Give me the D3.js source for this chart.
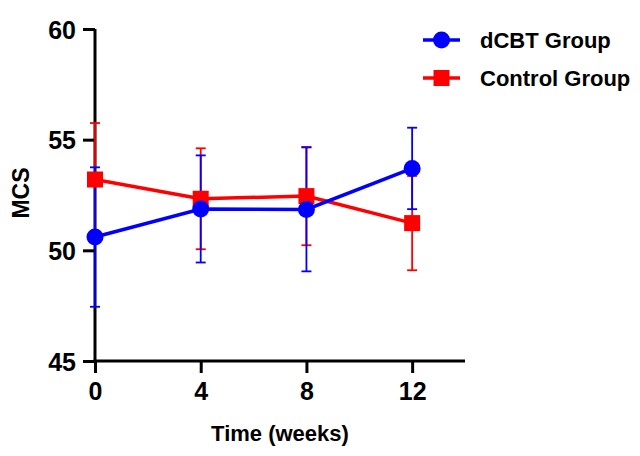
<!DOCTYPE html>
<html>
<head>
<meta charset="utf-8">
<script src="https://cdn.jsdelivr.net/npm/d3@7"></script>
<style>
  body { margin: 0; background: #fff; }
  svg { font-family: "Liberation Sans", Arial, sans-serif; font-weight: bold; }
</style>
</head>
<body>
<svg></svg>
<script>
// data
const weeks = [0, 4, 8, 12]
const dcbtMean = [50.6, 51.87, 51.85, 53.7]
const dcbtSD = [3.15, 2.42, 2.8, 1.84]
const controlMean = [53.2, 52.33, 52.45, 51.23]
const controlSD = [2.55, 2.28, 2.22, 2.13]
const yTicks = [45, 50, 55, 60]
const xTicks = [0, 4, 8, 12]

const
    svgWidth = 640,
    svgHeight = 456,
    LEFT = 95,
    RIGHT = 465,
    TOP = 29,
    BOTTOM = 361

let svg = d3.select('svg')
    .attr('width', svgWidth)
    .attr('height', svgHeight)

let x = d3.scaleLinear().domain([0, 14]).range([LEFT, RIGHT])
let y = d3.scaleLinear().domain([45, 60]).range([BOTTOM, TOP])

// axes
let yAxis = d3.axisLeft(y).tickValues(yTicks).tickSize(12).tickPadding(7)
let xAxis = d3.axisBottom(x).tickValues(xTicks).tickSize(12).tickPadding(9)

let gy = svg.append('g')
    .attr('transform', `translate(${LEFT},0)`)
    .call(yAxis)
let gx = svg.append('g')
    .attr('transform', `translate(0,${BOTTOM})`)
    .call(xAxis)

for (const g of [gx, gy]) {
    g.select('.domain').remove()
    g.selectAll('.tick line').attr('stroke', '#000').attr('stroke-width', 3)
    g.selectAll('.tick text').attr('fill', '#000').style('font-size', '25px').style('font-weight', 'bold')
}
gy.selectAll('.tick text').attr('dy', '0.36em')
gx.selectAll('.tick text').attr('dy', '0.72em')

// plain axis lines (no end ticks)
svg.append('line').attr('x1', LEFT).attr('x2', LEFT).attr('y1', y(60)).attr('y2', BOTTOM + 1.5)
    .attr('stroke', '#000').attr('stroke-width', 3)
svg.append('line').attr('x1', LEFT - 1.5).attr('x2', x(14)).attr('y1', BOTTOM).attr('y2', BOTTOM)
    .attr('stroke', '#000').attr('stroke-width', 3)

// axis titles
svg.append('text')
    .attr('x', 280).attr('y', 441)
    .attr('text-anchor', 'middle')
    .style('font-size', '22px')
    .text('Time (weeks)')
svg.append('text')
    .attr('transform', `translate(29,${193}) rotate(-90)`)
    .attr('text-anchor', 'middle')
    .style('font-size', '23px')
    .text('MCS')

const series = [
    {name: 'Control Group', color: '#ff0000', mean: controlMean, sd: controlSD, shape: 'square'},
    {name: 'dCBT Group', color: '#0000ff', mean: dcbtMean, sd: dcbtSD, shape: 'circle'}
]

// error bars
series.forEach(s => {
    let g = svg.append('g').attr('stroke', s.color).attr('stroke-width', 1.8)
    weeks.forEach((w, i) => {
        const cx = x(w), top = y(s.mean[i] + s.sd[i]), bot = y(s.mean[i] - s.sd[i])
        g.append('line').attr('x1', cx).attr('x2', cx).attr('y1', top).attr('y2', bot)
        g.append('line').attr('x1', cx - 5).attr('x2', cx + 5).attr('y1', top).attr('y2', top)
        g.append('line').attr('x1', cx - 5).attr('x2', cx + 5).attr('y1', bot).attr('y2', bot)
    })
})

// lines
let line = d3.line().x((d, i) => x(weeks[i])).y(d => y(d))
series.forEach(s => {
    svg.append('path')
        .attr('d', line(s.mean))
        .attr('fill', 'none')
        .attr('stroke', s.color)
        .attr('stroke-width', 3.5)
})

// markers
function marker(g, shape, color, cx, cy) {
    if (shape === 'circle') {
        g.append('circle').attr('cx', cx).attr('cy', cy).attr('r', 8.5).attr('fill', color)
    } else {
        g.append('rect').attr('x', cx - 8).attr('y', cy - 8).attr('width', 16).attr('height', 16).attr('fill', color)
    }
}
series.forEach(s => {
    let g = svg.append('g')
    s.mean.forEach((m, i) => marker(g, s.shape, s.color, x(weeks[i]), y(m)))
})

// legend
const legendOrder = [series[1], series[0]]
legendOrder.forEach((s, i) => {
    const ly = 40 + i * 38
    let g = svg.append('g')
    g.append('line').attr('x1', 423).attr('x2', 460).attr('y1', ly).attr('y2', ly)
        .attr('stroke', s.color).attr('stroke-width', 3.5)
    marker(g, s.shape, s.color, 441.5, ly)
    g.append('text').attr('x', 480).attr('y', ly).attr('dy', '0.36em')
        .style('font-size', '22px')
        .text(s.name)
})
</script>
</body>
</html>
